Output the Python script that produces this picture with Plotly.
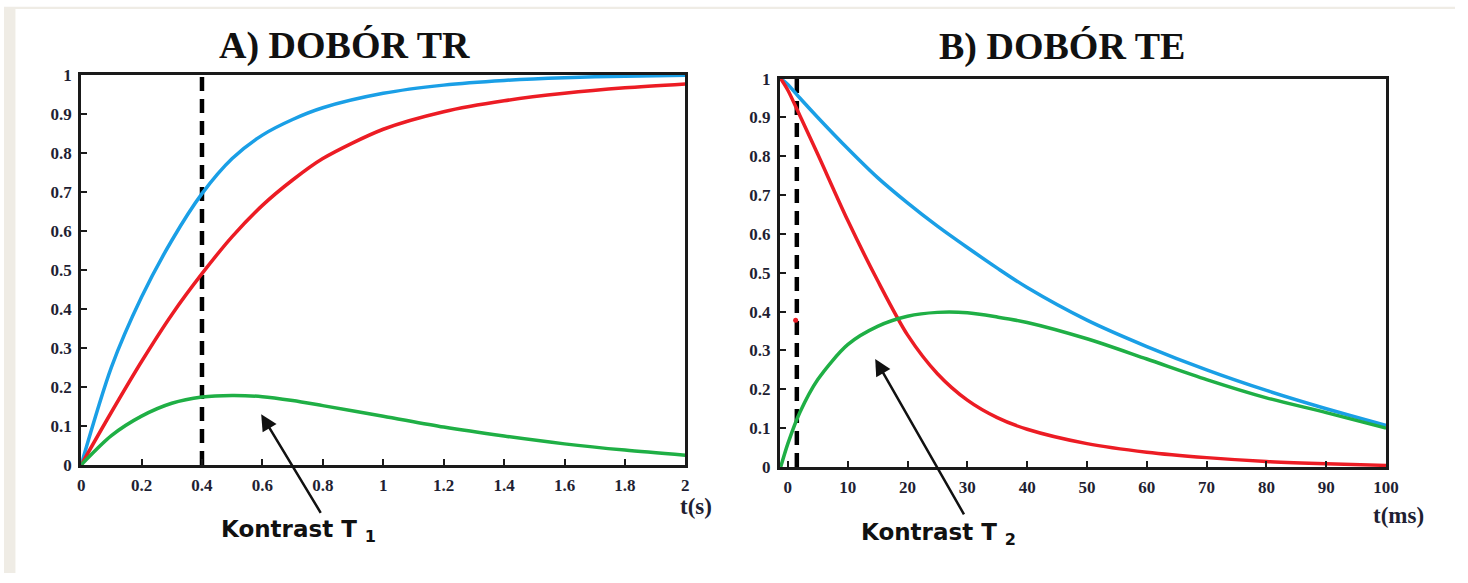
import plotly.graph_objects as go

# ---------------- data ----------------
# Panel A: choice of TR (time in s)
t_a = [0, 0.1, 0.2, 0.3, 0.4, 0.5, 0.6, 0.7, 0.8, 1.0, 1.2, 1.4, 1.6, 1.8, 2.0]
blue_a = [0, 0.25, 0.43, 0.575, 0.695, 0.785, 0.845, 0.885, 0.915, 0.952, 0.973, 0.985, 0.992, 0.996, 0.998]
red_a = [0, 0.135, 0.265, 0.385, 0.49, 0.585, 0.665, 0.73, 0.785, 0.86, 0.905, 0.933, 0.952, 0.966, 0.976]
green_a = [0, 0.075, 0.125, 0.158, 0.174, 0.178, 0.175, 0.165, 0.152, 0.125, 0.097, 0.074, 0.054, 0.038, 0.025]
TR_MARK = 0.4

# Panel B: choice of TE (time in ms)
t_b = [-1.2, 0, 2, 5, 10, 15, 20, 25, 30, 35, 40, 50, 60, 70, 80, 90, 100]
blue_b = [1.0, 0.985, 0.95, 0.90, 0.82, 0.745, 0.68, 0.62, 0.565, 0.512, 0.462, 0.378, 0.31, 0.25, 0.197, 0.15, 0.107]
red_b = [1.0, 0.97, 0.905, 0.805, 0.635, 0.48, 0.34, 0.24, 0.172, 0.127, 0.097, 0.06, 0.038, 0.024, 0.014, 0.008, 0.004]
green_b = [0, 0.06, 0.14, 0.225, 0.315, 0.362, 0.388, 0.398, 0.397, 0.386, 0.372, 0.33, 0.278, 0.225, 0.178, 0.14, 0.10]
TE_MARK = 1.5
red_dot_b = ([1.3], [0.378])

xticks_a = [0, 0.2, 0.4, 0.6, 0.8, 1, 1.2, 1.4, 1.6, 1.8, 2]
xticklabels_a = ["0", "0.2", "0.4", "0.6", "0.8", "1", "1.2", "1.4", "1.6", "1.8", "2"]
xticks_b = [0, 10, 20, 30, 40, 50, 60, 70, 80, 90, 100]
xticklabels_b = [str(v) for v in xticks_b]
yticks = [0, 0.1, 0.2, 0.3, 0.4, 0.5, 0.6, 0.7, 0.8, 0.9, 1]
yticklabels = ["0", "0.1", "0.2", "0.3", "0.4", "0.5", "0.6", "0.7", "0.8", "0.9", "1"]

titles = ["A) DOBÓR TR", "B) DOBÓR TE"]
xlabels = ["t(s)", "t(ms)"]
notes = ["Kontrast T <sub>1</sub>", "Kontrast T <sub>2</sub>"]

# ---------------- styling ----------------
W, H = 1468, 583
# small correction for how the page ends up in the photograph
SX, DX = 0.993, 1.5
SY, DY = 0.969, 9.3
BLUE = "#1A9FE6"
RED = "#EC1C24"
GREEN = "#1FAF45"
FRAME = "#1a1a1a"
TICKCOL = "#1f1f33"
LW = 3.5


def px_x(p):
    return ((p - DX) / SX) / W


def px_y(p):
    return 1 - ((p - DY) / SY) / H


fig = go.Figure()


def curve(x, y, color, xa, ya):
    fig.add_trace(go.Scatter(x=x, y=y, mode="lines", xaxis=xa, yaxis=ya,
                             line=dict(color=color, width=LW, shape="spline", smoothing=0.8),
                             hoverinfo="skip"))


# Panel A
fig.add_trace(go.Scatter(x=[TR_MARK, TR_MARK], y=[0, 1], mode="lines", xaxis="x", yaxis="y",
                         line=dict(color="black", width=4.5, dash="14px,8px"), hoverinfo="skip"))
curve(t_a, blue_a, BLUE, "x", "y")
curve(t_a, red_a, RED, "x", "y")
curve(t_a, green_a, GREEN, "x", "y")

# Panel B
fig.add_trace(go.Scatter(x=[TE_MARK, TE_MARK], y=[0, 1], mode="lines", xaxis="x2", yaxis="y2",
                         line=dict(color="black", width=4.5, dash="14px,8px"), hoverinfo="skip"))
curve(t_b, blue_b, BLUE, "x2", "y2")
curve(t_b, red_b, RED, "x2", "y2")
curve(t_b, green_b, GREEN, "x2", "y2")
fig.add_trace(go.Scatter(x=red_dot_b[0], y=red_dot_b[1], mode="markers", xaxis="x2", yaxis="y2",
                         marker=dict(color=RED, size=5, symbol="circle"), hoverinfo="skip"))

tickfont = dict(family="Liberation Serif", size=17, color=TICKCOL, weight="bold")
axis_common = dict(showline=True, linecolor=FRAME, linewidth=3, mirror=True,
                   ticks="inside", ticklen=6, tickwidth=2, tickcolor=FRAME,
                   showgrid=False, zeroline=False, tickfont=tickfont,
                   ticklabelstandoff=3, fixedrange=True)

fig.update_layout(
    width=W, height=H,
    margin=dict(l=0, r=0, t=0, b=0),
    paper_bgcolor="white", plot_bgcolor="white",
    showlegend=False,
    xaxis=dict(domain=[px_x(79), px_x(686)], range=[0, 2], anchor="y",
               tickvals=xticks_a, ticktext=xticklabels_a, **axis_common),
    yaxis=dict(domain=[px_y(466), px_y(75)], range=[0, 1], anchor="x",
               tickvals=yticks, ticktext=yticklabels, **axis_common),
    xaxis2=dict(domain=[px_x(781), px_x(1390)], range=[-1.33, 100], anchor="y2",
                tickvals=xticks_b, ticktext=xticklabels_b, **axis_common),
    yaxis2=dict(domain=[px_y(468), px_y(79)], range=[0, 1], anchor="x2",
                tickvals=yticks, ticktext=yticklabels, **axis_common),
)

# beige page border strips
fig.add_shape(type="rect", xref="paper", yref="paper", x0=0, x1=px_x(13), y0=0, y1=1,
              fillcolor="#EFECE5", line_width=0, layer="below")
fig.add_shape(type="rect", xref="paper", yref="paper", x0=0, x1=1, y0=px_y(7), y1=1,
              fillcolor="#EFECE5", line_width=0, layer="below")

titlefont = dict(family="Liberation Serif", size=38, color="#111111", weight="bold")
fig.add_annotation(text=titles[0], xref="paper", yref="paper", x=px_x(344), y=px_y(46),
                   showarrow=False, font=titlefont, xanchor="center", yanchor="middle")
fig.add_annotation(text=titles[1], xref="paper", yref="paper", x=px_x(1064), y=px_y(47),
                   showarrow=False, font=titlefont, xanchor="center", yanchor="middle")

lblfont = dict(family="Liberation Serif", size=23, color=TICKCOL, weight="bold")
fig.add_annotation(text=xlabels[0], xref="paper", yref="paper", x=px_x(697), y=px_y(508),
                   showarrow=False, font=lblfont, xanchor="center", yanchor="middle")
fig.add_annotation(text=xlabels[1], xref="paper", yref="paper", x=px_x(1402), y=px_y(517),
                   showarrow=False, font=lblfont, xanchor="center", yanchor="middle")

notefont = dict(family="DejaVu Sans", size=23, color="#111111", weight="bold")
fig.add_annotation(text=notes[0], xref="paper", yref="paper", x=px_x(297), y=px_y(532),
                   showarrow=False, font=notefont, xanchor="center", yanchor="middle")
fig.add_annotation(text=notes[1], xref="paper", yref="paper", x=px_x(940), y=px_y(535),
                   showarrow=False, font=notefont, xanchor="center", yanchor="middle")

# arrows pointing to the contrast curves
fig.add_annotation(x=0.596, y=0.13, xref="x", yref="y", ax=60 / SX, ay=97 / SY, text="",
                   showarrow=True, arrowhead=2, arrowsize=1.3, arrowwidth=2.5, arrowcolor="#111111")
fig.add_annotation(x=14.6, y=0.278, xref="x2", yref="y2", ax=89 / SX, ay=152 / SY, text="",
                   showarrow=True, arrowhead=2, arrowsize=1.3, arrowwidth=2.5, arrowcolor="#111111")

fig.write_html(
    "out.html",
    config={"displayModeBar": False},
    post_script="document.body.style.margin='0px'; document.body.style.overflow='hidden';",
)
